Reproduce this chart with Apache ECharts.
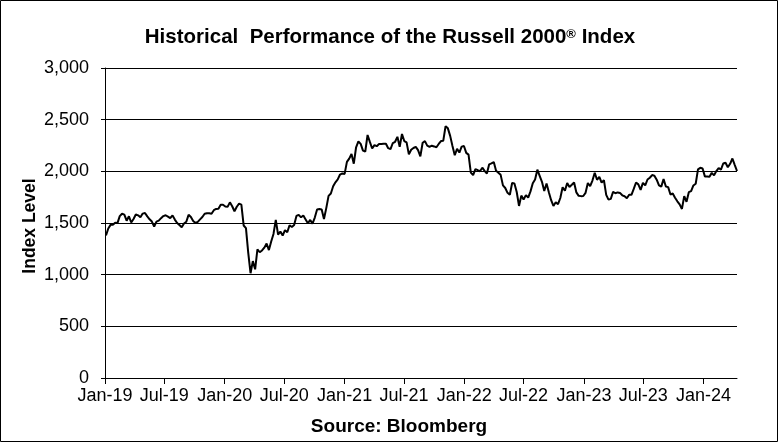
<!DOCTYPE html>
<html>
<head>
<meta charset="utf-8">
<script src="https://cdn.jsdelivr.net/npm/echarts@6/dist/echarts.min.js"></script>
<style>
html,body{margin:0;padding:0;background:#fff;}
#chart{width:780px;height:443px;}
</style>
</head>
<body>
<div id="chart"></div>
<script>
// Weekly closes of the Russell 2000 index
var v2019 = [1380,1447,1482,1482,1502,1499,1566,1590,1581,1522,1565,1505,1539,1582,1574,1555,1591,1597,1564,1536,1514,1466,1514,1523,1547,1567,1575,1562,1547,1574,1533,1500,1480,1459,1495,1512,1579,1558,1519,1500,1511,1535,1558,1590,1595,1595,1590,1624,1636,1637,1676,1677];
var v2020 = [1660,1656,1700,1662,1614,1657,1687,1678,1476,1450,1210,1014,1131,1052,1246,1217,1234,1261,1301,1238,1321,1394,1530,1388,1418,1378,1431,1410,1478,1461,1480,1568,1579,1555,1573,1535,1497,1530,1494,1553,1630,1635,1631,1538,1644,1763,1786,1856,1894,1922,1969,1980,1975];
var v2021 = [2091,2123,2168,2074,2233,2289,2266,2201,2192,2352,2285,2221,2254,2243,2264,2265,2267,2267,2224,2215,2274,2286,2334,2238,2361,2293,2280,2164,2209,2226,2237,2205,2145,2277,2292,2249,2237,2248,2241,2233,2265,2293,2297,2437,2416,2343,2245,2156,2218,2182,2239,2245];
var v2022 = [2179,2162,1988,1964,2022,2011,2001,2035,2005,1979,2068,2077,2090,2005,1987,1966,1864,1839,1792,1773,1887,1883,1800,1665,1765,1728,1770,1745,1806,1885,1921,2016,1957,1899,1809,1882,1798,1721,1665,1701,1682,1742,1846,1812,1886,1849,1870,1892,1796,1763,1760,1761];
var v2023 = [1792,1887,1857,1911,1986,1918,1947,1890,1915,1772,1726,1734,1802,1788,1796,1791,1768,1759,1740,1774,1773,1830,1892,1874,1821,1888,1865,1921,1938,1964,1958,1919,1864,1852,1925,1853,1847,1776,1785,1745,1710,1680,1636,1760,1705,1798,1808,1863,1880,2019,2034,2027];
var v2024 = [1951,1950,1948,1985,1961,2003,2032,2016,2076,2083,2040,2073,2124,2063,2003];

var firstWeek = '2019-01-04';           // first weekly observation (Friday)
var tickDates = ['2019-01-01','2019-07-01','2020-01-01','2020-07-01','2021-01-01','2021-07-01','2022-01-01','2022-07-01','2023-01-01','2023-07-01','2024-01-01'];
var tickLabels = ['Jan-19','Jul-19','Jan-20','Jul-20','Jan-21','Jul-21','Jan-22','Jul-22','Jan-23','Jul-23','Jan-24'];
var yTicks = [0,500,1000,1500,2000,2500,3000];

var allValues = [].concat(v2019, v2020, v2021, v2022, v2023, v2024);
var DAY = 86400000;
var t0 = Date.parse(firstWeek);
var seriesData = allValues.map(function (v, i) { return [t0 + i * 7 * DAY, v]; });
var tickTimes = tickDates.map(function (d) { return Date.parse(d); });

var FONT = '"Liberation Sans", Arial, sans-serif';
var chart = echarts.init(document.getElementById('chart'), null, {renderer: 'canvas'});
chart.setOption({
  animation: false,
  backgroundColor: '#ffffff',
  title: {
    text: '{t|Historical  Performance of the Russell 2000}{s|®}{t| Index}',
    left: 'center',
    top: 22,
    textStyle: {
      rich: {
        t: {fontFamily: FONT, fontWeight: 'bold', fontSize: 20.5, color: '#000'},
        s: {fontFamily: FONT, fontWeight: 'bold', fontSize: 13, color: '#000', padding: [0, 0, 7, 0]}
      }
    }
  },
  grid: {left: 105, right: 43, top: 68, bottom: 65, containLabel: false},
  xAxis: {
    type: 'value',
    min: Date.parse('2019-01-01'),
    max: seriesData[seriesData.length - 1][0],
    axisLine: {show: true, lineStyle: {color: '#000', width: 1}},
    axisTick: {show: true, length: 6, lineStyle: {color: '#000'}, customValues: tickTimes},
    splitLine: {show: false},
    axisLabel: {
      customValues: tickTimes,
      color: '#000', fontFamily: FONT, fontSize: 18, margin: 9,
      formatter: function (val) {
        var best = 0, bd = Infinity;
        tickTimes.forEach(function (t, k) { var d = Math.abs(t - val); if (d < bd) { bd = d; best = k; } });
        return tickLabels[best];
      }
    }
  },
  yAxis: {
    type: 'value',
    min: yTicks[0],
    max: yTicks[yTicks.length - 1],
    interval: 500,
    axisLine: {show: true, lineStyle: {color: '#000', width: 1}},
    axisTick: {show: true, length: 4, lineStyle: {color: '#000'}},
    splitLine: {show: true, lineStyle: {color: '#000', width: 1}},
    axisLabel: {
      color: '#000', fontFamily: FONT, fontSize: 18, margin: 16,
      formatter: function (v) { return v.toLocaleString('en-US'); }
    }
  },
  graphic: [
    {type: 'rect', shape: {x: 0.5, y: 0.5, width: 777, height: 441}, style: {fill: null, stroke: '#000', lineWidth: 1}, silent: true},
    {type: 'text', x: 30, y: 226, rotation: Math.PI / 2, style: {text: 'Index Level', fontFamily: FONT, fontWeight: 'bold', fontSize: 17.5, fill: '#000', textAlign: 'center', textVerticalAlign: 'middle'}},
    {type: 'text', x: 399, y: 427, style: {text: 'Source: Bloomberg', fontFamily: FONT, fontWeight: 'bold', fontSize: 19, fill: '#000', textAlign: 'center', textVerticalAlign: 'middle'}}
  ],
  series: [{
    type: 'line',
    data: seriesData,
    showSymbol: false,
    symbol: 'none',
    lineStyle: {color: '#000', width: 2},
    clip: false
  }]
});
</script>
</body>
</html>
